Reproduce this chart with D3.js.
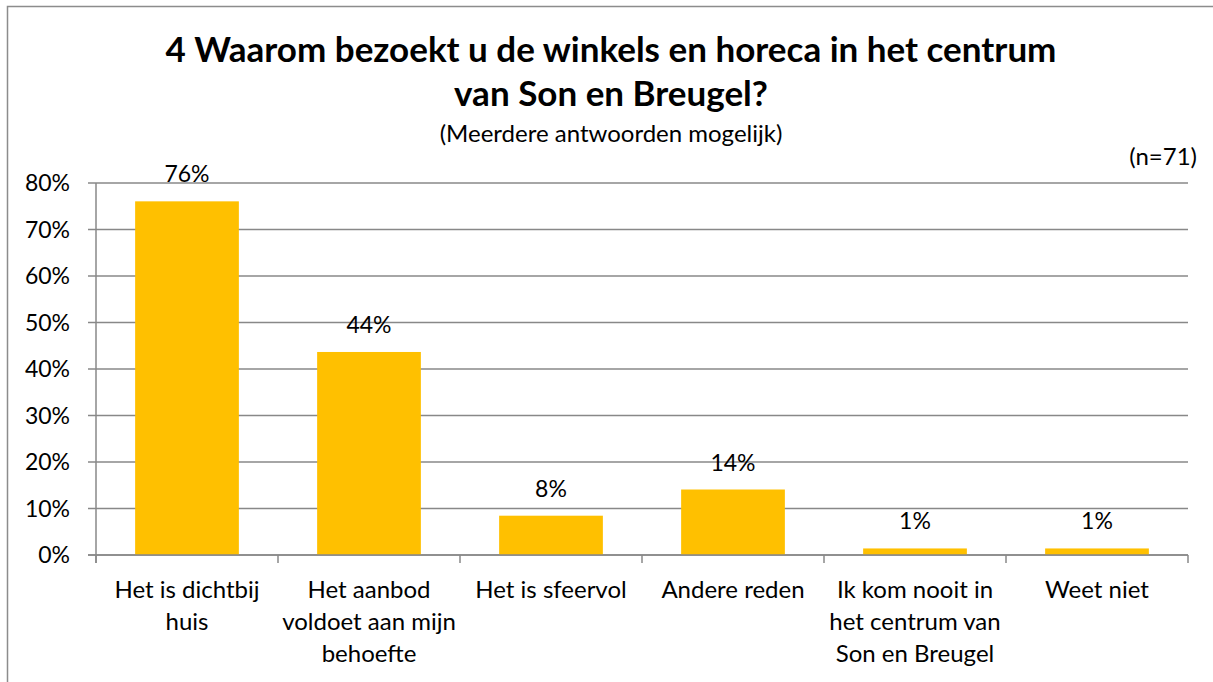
<!DOCTYPE html>
<html>
<head>
<meta charset="utf-8">
<script src="https://cdn.jsdelivr.net/npm/d3@7"></script>
<style>
  body { margin: 0; background: #fff; }
  text { font-family: Lato, "Open Sans", sans-serif; fill: #000; }
</style>
</head>
<body>
<script>
// data
const categories = [
  ["Het is dichtbij", "huis"],
  ["Het aanbod", "voldoet aan mijn", "behoefte"],
  ["Het is sfeervol"],
  ["Andere reden"],
  ["Ik kom nooit in", "het centrum van", "Son en Breugel"],
  ["Weet niet"]
]
const values = [54/71, 31/71, 6/71, 10/71, 1/71, 1/71]
const yTicks = [0, 0.1, 0.2, 0.3, 0.4, 0.5, 0.6, 0.7, 0.8]

const W = 1213, H = 682
const margin = {left: 96, right: 25, top: 183, bottom: 127}

const svg = d3.select("body").append("svg")
    .attr("width", W)
    .attr("height", H)

// chart border
svg.append("rect")
    .attr("x", 7.5).attr("y", 6.5)
    .attr("width", W + 10).attr("height", H + 10)
    .attr("fill", "none")
    .attr("stroke", "#8c8c8c")
    .attr("stroke-width", 1.5)

const x = d3.scaleBand()
    .domain(d3.range(categories.length))
    .range([margin.left, W - margin.right])
    .paddingInner(0.43)
    .paddingOuter(0.215)

const y = d3.scaleLinear()
    .domain([0, 0.8])
    .range([H - margin.bottom, margin.top])

// gridlines
svg.append("g")
    .selectAll("line")
    .data(yTicks)
    .enter()
    .append("line")
    .attr("x1", margin.left - 8)
    .attr("x2", W - margin.right)
    .attr("y1", d => y(d))
    .attr("y2", d => y(d))
    .attr("stroke", "#888")
    .attr("stroke-width", 1.5)

// y axis labels
svg.append("g")
    .selectAll("text")
    .data(yTicks)
    .enter()
    .append("text")
    .attr("x", 70)
    .attr("y", d => y(d) + 8)
    .attr("text-anchor", "end")
    .attr("font-size", "23px")
    .text(d => d3.format(".0%")(d))

// y axis line
svg.append("line")
    .attr("x1", margin.left).attr("x2", margin.left)
    .attr("y1", y(0.8)).attr("y2", y(0) + 8)
    .attr("stroke", "#888").attr("stroke-width", 1.5)

// category ticks
const step = x.step()
svg.append("g")
    .selectAll("line")
    .data(d3.range(categories.length + 1))
    .enter()
    .append("line")
    .attr("x1", i => margin.left + i * step)
    .attr("x2", i => margin.left + i * step)
    .attr("y1", y(0))
    .attr("y2", y(0) + 8)
    .attr("stroke", "#888").attr("stroke-width", 1.5)

// bars
svg.append("g")
    .selectAll("rect")
    .data(values)
    .enter()
    .append("rect")
    .attr("x", (d, i) => x(i))
    .attr("width", x.bandwidth())
    .attr("y", d => y(d))
    .attr("height", d => y(0) - y(d))
    .attr("fill", "#FFC000")

// redraw baseline on top of bars
svg.append("line")
    .attr("x1", margin.left - 8).attr("x2", W - margin.right)
    .attr("y1", y(0)).attr("y2", y(0))
    .attr("stroke", "#888").attr("stroke-width", 1.5)

// value labels
svg.append("g")
    .selectAll("text")
    .data(values)
    .enter()
    .append("text")
    .attr("x", (d, i) => x(i) + x.bandwidth() / 2)
    .attr("y", d => y(d) - 19)
    .attr("text-anchor", "middle")
    .attr("font-size", "23px")
    .text(d => Math.round(d * 100) + "%")

// category labels
const catLabels = svg.append("g")
    .selectAll("text")
    .data(categories)
    .enter()
    .append("text")
    .attr("text-anchor", "middle")
    .attr("font-size", "24px")
catLabels.each(function(lines, i){
    d3.select(this).selectAll("tspan")
        .data(lines)
        .enter()
        .append("tspan")
        .attr("x", x(i) + x.bandwidth() / 2)
        .attr("y", (l, j) => 598 + j * 32)
        .text(l => l)
})

// titles
svg.append("text")
    .attr("x", 611).attr("y", 62)
    .attr("text-anchor", "middle")
    .attr("font-size", "35px")
    .attr("font-weight", "bold")
    .text("4 Waarom bezoekt u de winkels en horeca in het centrum")
svg.append("text")
    .attr("x", 611).attr("y", 106)
    .attr("text-anchor", "middle")
    .attr("font-size", "35px")
    .attr("font-weight", "bold")
    .text("van Son en Breugel?")
svg.append("text")
    .attr("x", 611).attr("y", 142)
    .attr("text-anchor", "middle")
    .attr("font-size", "24px")
    .text("(Meerdere antwoorden mogelijk)")
svg.append("text")
    .attr("x", 1197).attr("y", 165)
    .attr("text-anchor", "end")
    .attr("font-size", "24px")
    .text("(n=71)")
</script>
</body>
</html>
